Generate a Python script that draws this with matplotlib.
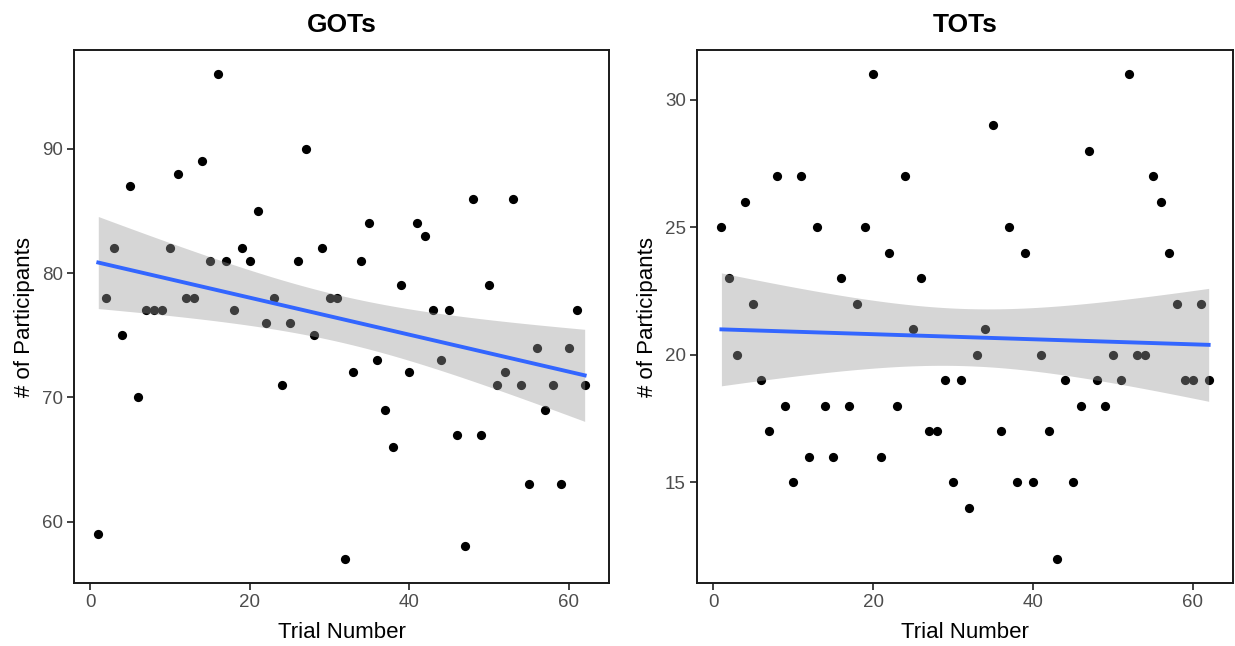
import matplotlib
matplotlib.use("Agg")
import matplotlib.pyplot as plt
import numpy as np

plt.rcParams['font.family'] = ['Liberation Sans', 'DejaVu Sans']

# trial numbers 1..62
trials = list(range(1, 63))

gots = [59, 78, 82, 75, 87, 70, 77, 77, 77, 82,
        88, 78, 78, 89, 81, 96, 81, 77, 82, 81,
        85, 76, 78, 71, 76, 81, 90, 75, 82, 78,
        78, 57, 72, 81, 84, 73, 69, 66, 79, 72,
        84, 83, 77, 73, 77, 67, 58, 86, 67, 79,
        71, 72, 86, 71, 63, 74, 69, 71, 63, 74,
        77, 71]

tots = [25, 23, 20, 26, 22, 19, 17, 27, 18, 15,
        27, 16, 25, 18, 16, 23, 18, 22, 25, 31,
        16, 24, 18, 27, 21, 23, 17, 17, 19, 15,
        19, 14, 20, 21, 29, 17, 25, 15, 24, 15,
        20, 17, 12, 19, 15, 18, 28, 19, 18, 20,
        19, 31, 20, 20, 27, 26, 24, 22, 19, 19,
        22, 19]

titles = ['GOTs', 'TOTs']
yticks = [[60, 70, 80, 90], [15, 20, 25, 30]]
xticks = [0, 20, 40, 60]

T975 = 2.0003  # t quantile, df = 60


def lm_band(x, y, n=80):
    # like geom_smooth(method='lm'): fit + 95% CI of the mean
    x = np.asarray(x, float)
    y = np.asarray(y, float)
    b, a = np.polyfit(x, y, 1)
    resid = y - (a + b * x)
    df = len(x) - 2
    s = np.sqrt(np.sum(resid ** 2) / df)
    xs = np.linspace(x.min(), x.max(), n)
    sxx = np.sum((x - x.mean()) ** 2)
    se = s * np.sqrt(1.0 / len(x) + (xs - x.mean()) ** 2 / sxx)
    fit = a + b * xs
    return xs, fit, fit - T975 * se, fit + T975 * se


def expand(lo, hi, f=0.05):
    d = (hi - lo) * f
    return lo - d, hi + d


fig = plt.figure(figsize=(12.35, 6.46), dpi=100)
axes = [fig.add_axes([0.0599, 0.0975, 0.4332, 0.825]),
        fig.add_axes([0.5644, 0.0975, 0.434, 0.825])]

for ax, ys, title, yt in zip(axes, [gots, tots], titles, yticks):
    ax.scatter(trials, ys, s=44, color='black', linewidths=0, zorder=2)
    xs, fit, lo, hi = lm_band(trials, ys)
    ax.fill_between(xs, lo, hi, color='#999999', alpha=0.4, linewidth=0, zorder=3)
    ax.plot(xs, fit, color='#3366FF', lw=2.8, zorder=4)

    ax.set_xlim(*expand(min(trials), max(trials)))
    ax.set_ylim(*expand(min(ys), max(ys)))
    ax.set_xticks(xticks)
    ax.set_yticks(yt)
    ax.tick_params(length=5, width=1.3, color='#333333', labelcolor='#4D4D4D',
                   labelsize=13.5, pad=3)
    for sp in ax.spines.values():
        sp.set_linewidth(1.4)
        sp.set_color('#1a1a1a')
    ax.set_title(title, fontsize=19, fontweight='bold', pad=13)
    ax.set_xlabel('Trial Number', fontsize=16, labelpad=8)
    ax.set_ylabel('# of Participants', fontsize=16, labelpad=5)

fig.savefig('out.png', dpi=100)
